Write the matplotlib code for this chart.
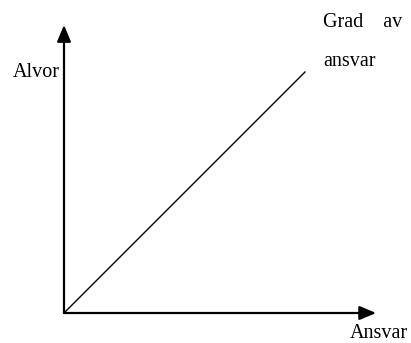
import matplotlib
matplotlib.use('Agg')
import matplotlib.pyplot as plt

# diagonal line: severity grows with degree of responsibility
line_x = [0, 1]
line_y = [0, 1]
x_axis_end = 1.295
y_axis_end = 1.195

labels = {
    'Alvor': (13, 77),
    'Grad    av': (323, 27),
    'ansvar': (323, 66),
    'Ansvar': (350, 338),
}

plt.rcParams['font.family'] = 'Liberation Serif'

W, H = 411, 343
fig = plt.figure(figsize=(W / 100, H / 100), dpi=100)
ax = fig.add_axes([0, 0, 1, 1])
ax.set_xlim(-64 / 241, (W - 64) / 241)
ax.set_ylim(-(H - 313) / 241, 313 / 241)
ax.axis('off')

ax.plot(line_x, line_y, color='black', lw=1.0)

arrow = dict(arrowstyle='-|>,head_length=1.0,head_width=0.42', color='black',
             lw=1.6, mutation_scale=10, shrinkA=0, shrinkB=0)
ax.annotate('', xy=(x_axis_end, 0), xytext=(0, 0), arrowprops=arrow)
ax.annotate('', xy=(0, y_axis_end), xytext=(0, 0), arrowprops=arrow)

for txt, (px, py) in labels.items():
    fig.text(px / W, 1 - py / H, txt, fontsize=14.5, ha='left', va='baseline')

plt.savefig('out.png', dpi=100)
